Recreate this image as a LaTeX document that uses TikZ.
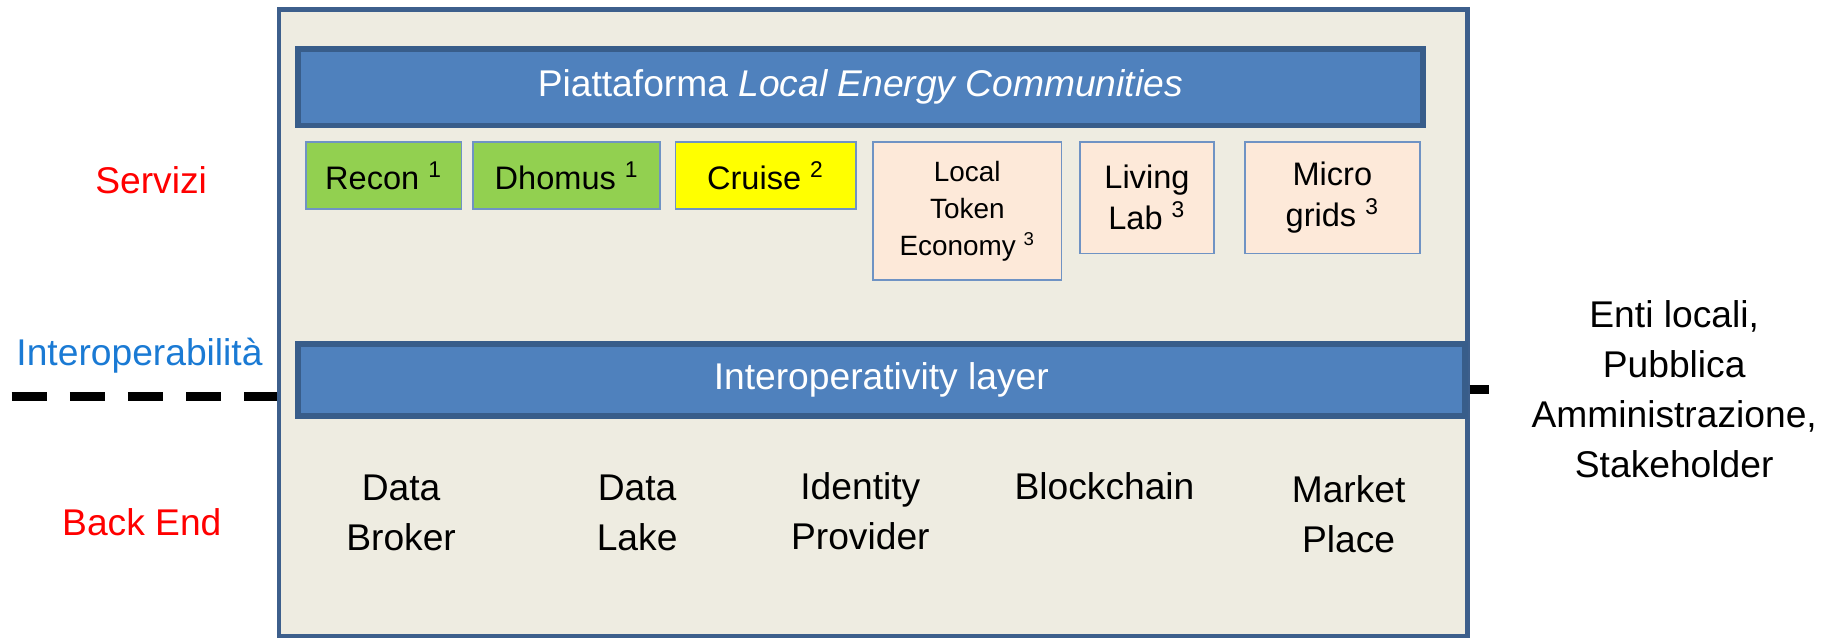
\documentclass[tikz,border=0pt]{standalone}
\usepackage{fontspec}
\setmainfont{Liberation Sans}
\usetikzlibrary{positioning}
\definecolor{barblue}{HTML}{4F81BD}
\definecolor{bardark}{HTML}{385D8A}
\definecolor{framefill}{HTML}{EEECE1}
\definecolor{frameline}{HTML}{3D5F8C}
\definecolor{boxline}{HTML}{6F93C4}
\definecolor{srvgreen}{HTML}{92D050}
\definecolor{srvyellow}{HTML}{FFFF00}
\definecolor{srvpeach}{HTML}{FDE9D9}
\definecolor{labred}{HTML}{FF0000}
\definecolor{labblue}{HTML}{1A7AD4}

\begin{document}
\begin{tikzpicture}[
	x=0.5pt, y=-0.5pt,
	outerbox/.style = {draw=frameline, line width=2pt, fill=framefill, inner sep=0pt},
	layerbar/.style = {draw=bardark, line width=2.5pt, fill=barblue, text=white,
									 inner sep=0pt, font=\fontsize{16}{19}\selectfont},
	 service/.style = {draw=boxline, line width=0.8pt, inner sep=0pt, align=center,
									 font=\fontsize{14}{17.5}\selectfont},
	 backend/.style = {align=center, font=\fontsize{16}{21.5}\selectfont},
		 side/.style = {align=center, font=\fontsize{16}{21.5}\selectfont},
	 sepline/.style = {line width=3.5pt, dash pattern=on 15pt off 10pt}]

\useasboundingbox (0,0) rectangle (1568,549);

\node (outer) [outerbox, minimum width=511pt, minimum height=269.5pt] at (751,277.5) {};

% servizi
\node (P-1) [layerbar, minimum width=484pt, minimum height=33pt]
		at (740,75) {Piattaforma \textit{Local Energy Communities}};
\node (S-1) [service, fill=srvgreen, minimum width=67pt, minimum height=29pt]
		at (330,151)   {Recon \textsuperscript{1}};                 % <-- S-1
\node (S-2) [service, fill=srvgreen, minimum width=80.5pt, minimum height=29pt]
		at (487.5,151) {Dhomus \textsuperscript{1}};                % <-- S-2
\node (S-3) [service, fill=srvyellow, minimum width=77.5pt, minimum height=29pt]
		at (658.5,151) {Cruise \textsuperscript{2}};                % <-- S-3
\node (S-4) [service, fill=srvpeach, minimum width=81pt, minimum height=59.5pt,
						 font=\fontsize{12}{16}\selectfont]
		at (832,181.5) {Local\\Token\\Economy \textsuperscript{3}}; % <-- S-4
\node (S-5) [service, fill=srvpeach, minimum width=57.5pt, minimum height=48pt]
		at (986.5,170) {Living\\Lab \textsuperscript{3}};           % <-- S-5
\node (S-6) [service, fill=srvpeach, minimum width=75pt, minimum height=48pt]
		at (1146,170)  {Micro\\grids \textsuperscript{3}};          % <-- S-6

% interoperabilita
\node (I-1) [layerbar, minimum width=502pt, minimum height=31pt]
		at (758,327) {Interoperativity layer};

% back end
\node (B-1) [backend] at (345,441)  {Data\\Broker};
\node (B-2) [backend] at (548,441)  {Data\\Lake};
\node (B-3) [backend] at (740,440)  {Identity\\Provider};
\node (B-4) [backend] at (950,418)  {Blockchain};
\node (B-5) [backend] at (1160,442) {Market\\Place};

% etichette laterali
\node (L-1) [side, text=labred]  at (130,155) {Servizi};
\node (L-2) [side, text=labblue] at (120,306) {Interoperabilità};
\node (L-3) [side, text=labred]  at (122,449) {Back End};
\node (R-1) [side] at (1440,335) {Enti locali,\\Pubblica\\Amministrazione,\\Stakeholder};

%%
\coordinate (sep-l) at (10,341);
\coordinate (sep-r) at (1281,335);
\draw [sepline] (sep-l) -- (sep-l -| outer.west);
\draw [sepline, solid] (sep-r -| outer.east) -- (sep-r);
\end{tikzpicture}
\end{document}
